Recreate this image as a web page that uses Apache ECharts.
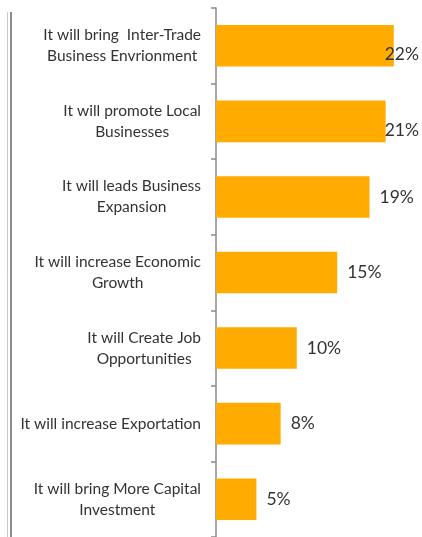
<!DOCTYPE html>
<html>
<head>
<meta charset="utf-8">
<script src="https://cdn.jsdelivr.net/npm/echarts@6/dist/echarts.min.js"></script>
<style>
  html, body { margin: 0; padding: 0; background: #fff; }
  #chart { width: 422px; height: 537px; }
</style>
</head>
<body>
<div id="chart"></div>
<script>
// Survey responses, listed top to bottom
const categories = [
  'It will bring  Inter-Trade\nBusiness Envrionment',
  'It will promote Local\nBusinesses',
  'It will leads Business\nExpansion',
  'It will increase Economic\nGrowth',
  'It will Create Job\nOpportunities',
  'It will increase Exportation',
  'It will bring More Capital\nInvestment'
];
const percentages = [22, 21, 19, 15, 10, 8, 5];

const chart = echarts.init(document.getElementById('chart'), null, { renderer: 'canvas' });
const W = 422;
const FONT = 'Lato, "Open Sans", sans-serif';

chart.setOption({
  animation: false,
  backgroundColor: '#ffffff',
  grid: { left: 216, right: 4, top: 8, height: 539, containLabel: false },
  xAxis: {
    type: 'value',
    min: 0,
    max: 25,
    show: false
  },
  yAxis: {
    type: 'category',
    inverse: true,
    data: categories,
    axisLine: { show: true, lineStyle: { color: '#8a8a8a', width: 1.5 } },
    axisTick: { show: true, inside: false, length: 5, lineStyle: { color: '#8a8a8a', width: 1.5 } },
    axisLabel: {
      margin: 15,
      align: 'right',
      // each line centred inside the right-aligned label block
      formatter: function (v) {
        return v.split('\n').map(function (s) { return '{c|' + s + '}'; }).join('\n');
      },
      rich: {
        c: {
          align: 'center',
          color: '#333333',
          fontFamily: FONT,
          fontSize: 15.5,
          lineHeight: 21
        }
      }
    },
    splitLine: { show: false }
  },
  series: [{
    type: 'bar',
    data: percentages,
    barCategoryGap: '45%',
    itemStyle: { color: '#FFAB00' },
    label: {
      show: true,
      position: 'right',
      distance: 10,
      formatter: '{c}%',
      color: '#333333',
      fontFamily: FONT,
      fontSize: 17.5
    },
    // keep value labels inside the canvas, sliding them back over the bar end
    labelLayout: function (p) {
      const r = p.labelRect;
      const maxRight = W - 3;
      if (r.x + r.width > maxRight) {
        return { x: maxRight - r.width, align: 'left' };
      }
      return {};
    }
  }],
  graphic: [
    { type: 'line', shape: { x1: 7.5, y1: 12, x2: 7.5, y2: 537 }, style: { stroke: '#c8c8c8', lineWidth: 1 } },
    { type: 'line', shape: { x1: 11, y1: 12, x2: 11, y2: 537 }, style: { stroke: '#8c8c8c', lineWidth: 2 } }
  ]
});
</script>
</body>
</html>
